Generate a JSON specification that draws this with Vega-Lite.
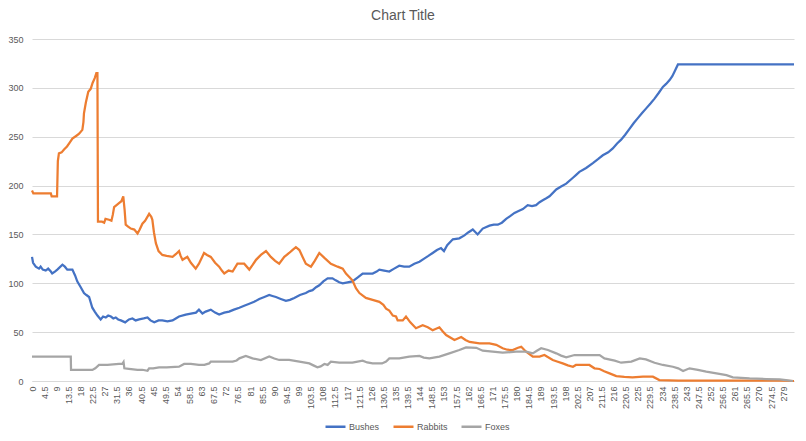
{
  "$schema": "https://vega.github.io/schema/vega-lite/v6.json",
  "autosize": {"type": "none"},
  "width": 762,
  "height": 342,
  "padding": {"left": 32, "top": 39, "right": 12, "bottom": 60},
  "background": "white",
  "title": {"text": "Chart Title", "fontSize": 14, "font": "Liberation Sans", "fontWeight": "normal", "color": "#595959", "anchor": "middle", "offset": 12, "dx": -10},
  "config": {"view": {"stroke": null}},
  "data": {"values": [
{"s":"Bushes","t":0,"v":127},{"s":"Bushes","t":0.4,"v":121},{"s":"Bushes","t":1.4,"v":117},{"s":"Bushes","t":2.6,"v":115},{"s":"Bushes","t":3.2,"v":117},{"s":"Bushes","t":4,"v":114},{"s":"Bushes","t":5.1,"v":113},{"s":"Bushes","t":6,"v":115},{"s":"Bushes","t":7,"v":112},{"s":"Bushes","t":7.5,"v":110},{"s":"Bushes","t":8.5,"v":112},{"s":"Bushes","t":9.4,"v":114},{"s":"Bushes","t":11.3,"v":119},{"s":"Bushes","t":12.2,"v":117},{"s":"Bushes","t":13.1,"v":114},{"s":"Bushes","t":15,"v":114},{"s":"Bushes","t":16,"v":108},{"s":"Bushes","t":16.8,"v":102},{"s":"Bushes","t":18.1,"v":96},{"s":"Bushes","t":19.3,"v":90},{"s":"Bushes","t":20.2,"v":88},{"s":"Bushes","t":21.2,"v":86},{"s":"Bushes","t":22.4,"v":75},{"s":"Bushes","t":23.3,"v":71},{"s":"Bushes","t":24.3,"v":67},{"s":"Bushes","t":25.5,"v":63},{"s":"Bushes","t":26.4,"v":66},{"s":"Bushes","t":27.4,"v":65},{"s":"Bushes","t":28.3,"v":67},{"s":"Bushes","t":29.3,"v":66},{"s":"Bushes","t":30.2,"v":64},{"s":"Bushes","t":31.1,"v":65},{"s":"Bushes","t":32,"v":63},{"s":"Bushes","t":33,"v":62},{"s":"Bushes","t":34.6,"v":60},{"s":"Bushes","t":36,"v":63},{"s":"Bushes","t":37.3,"v":64},{"s":"Bushes","t":38.5,"v":62},{"s":"Bushes","t":39.8,"v":63},{"s":"Bushes","t":41.5,"v":64},{"s":"Bushes","t":42.9,"v":65},{"s":"Bushes","t":44,"v":62},{"s":"Bushes","t":45.4,"v":60},{"s":"Bushes","t":47,"v":62},{"s":"Bushes","t":48.4,"v":62},{"s":"Bushes","t":50.3,"v":61},{"s":"Bushes","t":52.2,"v":62},{"s":"Bushes","t":53.4,"v":64},{"s":"Bushes","t":54.6,"v":66},{"s":"Bushes","t":57.1,"v":68},{"s":"Bushes","t":59,"v":69},{"s":"Bushes","t":60.9,"v":70},{"s":"Bushes","t":62,"v":73},{"s":"Bushes","t":63.3,"v":69},{"s":"Bushes","t":64.5,"v":71},{"s":"Bushes","t":66.4,"v":73},{"s":"Bushes","t":68,"v":70},{"s":"Bushes","t":69.5,"v":68},{"s":"Bushes","t":71.4,"v":70},{"s":"Bushes","t":73.2,"v":71},{"s":"Bushes","t":75,"v":73},{"s":"Bushes","t":77,"v":75},{"s":"Bushes","t":78.8,"v":77},{"s":"Bushes","t":80.7,"v":79},{"s":"Bushes","t":82.5,"v":81},{"s":"Bushes","t":84.4,"v":84},{"s":"Bushes","t":86.3,"v":86},{"s":"Bushes","t":88.1,"v":88},{"s":"Bushes","t":89.3,"v":87},{"s":"Bushes","t":90.6,"v":86},{"s":"Bushes","t":92.4,"v":84},{"s":"Bushes","t":94.3,"v":82},{"s":"Bushes","t":95.8,"v":83},{"s":"Bushes","t":97.4,"v":85},{"s":"Bushes","t":99.5,"v":88},{"s":"Bushes","t":101.7,"v":90},{"s":"Bushes","t":103,"v":92},{"s":"Bushes","t":104.2,"v":93},{"s":"Bushes","t":105.5,"v":96},{"s":"Bushes","t":106.7,"v":98},{"s":"Bushes","t":108.2,"v":102},{"s":"Bushes","t":109.8,"v":105},{"s":"Bushes","t":111.6,"v":105},{"s":"Bushes","t":112.8,"v":103},{"s":"Bushes","t":114.1,"v":101},{"s":"Bushes","t":115.4,"v":100},{"s":"Bushes","t":117.2,"v":101},{"s":"Bushes","t":119,"v":102},{"s":"Bushes","t":121,"v":106},{"s":"Bushes","t":122.8,"v":110},{"s":"Bushes","t":124.5,"v":110},{"s":"Bushes","t":126.5,"v":110},{"s":"Bushes","t":128,"v":112},{"s":"Bushes","t":129,"v":114},{"s":"Bushes","t":130.8,"v":113},{"s":"Bushes","t":132.7,"v":112},{"s":"Bushes","t":134.5,"v":115},{"s":"Bushes","t":136.4,"v":118},{"s":"Bushes","t":138.2,"v":117},{"s":"Bushes","t":140.1,"v":117},{"s":"Bushes","t":142,"v":120},{"s":"Bushes","t":143.9,"v":122},{"s":"Bushes","t":145.5,"v":125},{"s":"Bushes","t":147.2,"v":128},{"s":"Bushes","t":148.8,"v":131},{"s":"Bushes","t":150.4,"v":134},{"s":"Bushes","t":151.9,"v":136},{"s":"Bushes","t":153,"v":133},{"s":"Bushes","t":154.2,"v":139},{"s":"Bushes","t":156.3,"v":145},{"s":"Bushes","t":158.7,"v":146},{"s":"Bushes","t":160.6,"v":149},{"s":"Bushes","t":162,"v":152},{"s":"Bushes","t":163.7,"v":155},{"s":"Bushes","t":165.5,"v":150},{"s":"Bushes","t":167.4,"v":156},{"s":"Bushes","t":169.9,"v":159},{"s":"Bushes","t":171.5,"v":160},{"s":"Bushes","t":173,"v":160},{"s":"Bushes","t":174.5,"v":162},{"s":"Bushes","t":176.1,"v":166},{"s":"Bushes","t":177.7,"v":169},{"s":"Bushes","t":179.2,"v":172},{"s":"Bushes","t":180.7,"v":174},{"s":"Bushes","t":182.3,"v":176},{"s":"Bushes","t":184.1,"v":180},{"s":"Bushes","t":185.7,"v":179},{"s":"Bushes","t":187.2,"v":180},{"s":"Bushes","t":188.5,"v":183},{"s":"Bushes","t":189.7,"v":185},{"s":"Bushes","t":191,"v":187},{"s":"Bushes","t":192.2,"v":189},{"s":"Bushes","t":194.7,"v":196},{"s":"Bushes","t":196.5,"v":199},{"s":"Bushes","t":198.4,"v":202},{"s":"Bushes","t":200.9,"v":208},{"s":"Bushes","t":202.1,"v":211},{"s":"Bushes","t":203.3,"v":214},{"s":"Bushes","t":205.8,"v":218},{"s":"Bushes","t":208.3,"v":223},{"s":"Bushes","t":210.2,"v":227},{"s":"Bushes","t":212,"v":231},{"s":"Bushes","t":214,"v":234},{"s":"Bushes","t":215.7,"v":238},{"s":"Bushes","t":217.3,"v":243},{"s":"Bushes","t":218.8,"v":247},{"s":"Bushes","t":220.3,"v":252},{"s":"Bushes","t":221.9,"v":258},{"s":"Bushes","t":223.5,"v":264},{"s":"Bushes","t":225,"v":269},{"s":"Bushes","t":226.5,"v":274},{"s":"Bushes","t":228.1,"v":279},{"s":"Bushes","t":229.7,"v":284},{"s":"Bushes","t":231.2,"v":289},{"s":"Bushes","t":232.8,"v":295},{"s":"Bushes","t":234.3,"v":301},{"s":"Bushes","t":235.5,"v":304},{"s":"Bushes","t":236.8,"v":308},{"s":"Bushes","t":237.8,"v":312},{"s":"Bushes","t":238.7,"v":317},{"s":"Bushes","t":239.9,"v":324},{"s":"Bushes","t":283,"v":324},
{"s":"Rabbits","t":0,"v":195},{"s":"Rabbits","t":0.5,"v":192},{"s":"Rabbits","t":7,"v":192},{"s":"Rabbits","t":7.3,"v":189},{"s":"Rabbits","t":9.3,"v":189},{"s":"Rabbits","t":9.6,"v":225},{"s":"Rabbits","t":10,"v":233},{"s":"Rabbits","t":11,"v":234},{"s":"Rabbits","t":11.9,"v":237},{"s":"Rabbits","t":13,"v":240},{"s":"Rabbits","t":14,"v":244},{"s":"Rabbits","t":15,"v":248},{"s":"Rabbits","t":16.5,"v":251},{"s":"Rabbits","t":17.5,"v":253},{"s":"Rabbits","t":18.7,"v":257},{"s":"Rabbits","t":19.1,"v":265},{"s":"Rabbits","t":19.3,"v":274},{"s":"Rabbits","t":20,"v":285},{"s":"Rabbits","t":20.9,"v":296},{"s":"Rabbits","t":21.8,"v":299},{"s":"Rabbits","t":22.5,"v":305},{"s":"Rabbits","t":23.3,"v":310},{"s":"Rabbits","t":23.9,"v":315},{"s":"Rabbits","t":24.3,"v":315},{"s":"Rabbits","t":24.5,"v":163},{"s":"Rabbits","t":26,"v":163},{"s":"Rabbits","t":26.8,"v":162},{"s":"Rabbits","t":27.3,"v":166},{"s":"Rabbits","t":28.6,"v":165},{"s":"Rabbits","t":29.5,"v":164},{"s":"Rabbits","t":30,"v":170},{"s":"Rabbits","t":30.5,"v":178},{"s":"Rabbits","t":32.3,"v":182},{"s":"Rabbits","t":33.2,"v":184},{"s":"Rabbits","t":33.9,"v":189},{"s":"Rabbits","t":34.4,"v":175},{"s":"Rabbits","t":34.8,"v":160},{"s":"Rabbits","t":35.7,"v":158},{"s":"Rabbits","t":36.7,"v":156},{"s":"Rabbits","t":38,"v":155},{"s":"Rabbits","t":39.2,"v":151},{"s":"Rabbits","t":40,"v":155},{"s":"Rabbits","t":41,"v":161},{"s":"Rabbits","t":42,"v":164},{"s":"Rabbits","t":43.5,"v":171},{"s":"Rabbits","t":44.3,"v":168},{"s":"Rabbits","t":44.7,"v":165},{"s":"Rabbits","t":45.3,"v":152},{"s":"Rabbits","t":46,"v":141},{"s":"Rabbits","t":47,"v":133},{"s":"Rabbits","t":48.4,"v":129},{"s":"Rabbits","t":50,"v":128},{"s":"Rabbits","t":52.2,"v":127},{"s":"Rabbits","t":53.5,"v":130},{"s":"Rabbits","t":54.6,"v":133},{"s":"Rabbits","t":55.2,"v":128},{"s":"Rabbits","t":55.9,"v":124},{"s":"Rabbits","t":57.7,"v":127},{"s":"Rabbits","t":59,"v":121},{"s":"Rabbits","t":60.8,"v":115},{"s":"Rabbits","t":62,"v":120},{"s":"Rabbits","t":63.9,"v":131},{"s":"Rabbits","t":65,"v":129},{"s":"Rabbits","t":66.4,"v":127},{"s":"Rabbits","t":68,"v":121},{"s":"Rabbits","t":69.5,"v":117},{"s":"Rabbits","t":70.5,"v":113},{"s":"Rabbits","t":71.4,"v":110},{"s":"Rabbits","t":73,"v":113},{"s":"Rabbits","t":74.5,"v":112},{"s":"Rabbits","t":76.3,"v":120},{"s":"Rabbits","t":78.8,"v":120},{"s":"Rabbits","t":80.7,"v":114},{"s":"Rabbits","t":82,"v":119},{"s":"Rabbits","t":83.2,"v":124},{"s":"Rabbits","t":85,"v":129},{"s":"Rabbits","t":86.9,"v":133},{"s":"Rabbits","t":88.7,"v":127},{"s":"Rabbits","t":90.3,"v":123},{"s":"Rabbits","t":91.8,"v":120},{"s":"Rabbits","t":93.7,"v":127},{"s":"Rabbits","t":95.5,"v":131},{"s":"Rabbits","t":96.7,"v":134},{"s":"Rabbits","t":98,"v":137},{"s":"Rabbits","t":99.3,"v":134},{"s":"Rabbits","t":100.5,"v":127},{"s":"Rabbits","t":101.7,"v":120},{"s":"Rabbits","t":103.6,"v":117},{"s":"Rabbits","t":105,"v":123},{"s":"Rabbits","t":106.7,"v":131},{"s":"Rabbits","t":108.6,"v":126},{"s":"Rabbits","t":111,"v":120},{"s":"Rabbits","t":113.5,"v":117},{"s":"Rabbits","t":115.4,"v":115},{"s":"Rabbits","t":116.6,"v":110},{"s":"Rabbits","t":118,"v":106},{"s":"Rabbits","t":119,"v":103},{"s":"Rabbits","t":120.3,"v":95},{"s":"Rabbits","t":121.6,"v":90},{"s":"Rabbits","t":124,"v":85},{"s":"Rabbits","t":126.5,"v":83},{"s":"Rabbits","t":129,"v":81},{"s":"Rabbits","t":130.5,"v":78},{"s":"Rabbits","t":131.5,"v":74},{"s":"Rabbits","t":132.7,"v":72},{"s":"Rabbits","t":134,"v":67},{"s":"Rabbits","t":135.2,"v":66},{"s":"Rabbits","t":135.8,"v":62},{"s":"Rabbits","t":137.7,"v":62},{"s":"Rabbits","t":138.9,"v":66},{"s":"Rabbits","t":140.5,"v":60},{"s":"Rabbits","t":142.6,"v":54},{"s":"Rabbits","t":145.1,"v":57},{"s":"Rabbits","t":147,"v":55},{"s":"Rabbits","t":148.8,"v":52},{"s":"Rabbits","t":151.3,"v":55},{"s":"Rabbits","t":152.5,"v":51},{"s":"Rabbits","t":153.8,"v":47},{"s":"Rabbits","t":156.9,"v":42},{"s":"Rabbits","t":159.4,"v":45},{"s":"Rabbits","t":161,"v":42},{"s":"Rabbits","t":162.5,"v":40},{"s":"Rabbits","t":166.2,"v":38.6},{"s":"Rabbits","t":169.9,"v":38.6},{"s":"Rabbits","t":172.4,"v":37},{"s":"Rabbits","t":174.8,"v":33.5},{"s":"Rabbits","t":176.5,"v":32},{"s":"Rabbits","t":178.5,"v":31.7},{"s":"Rabbits","t":180.5,"v":34},{"s":"Rabbits","t":181.7,"v":35},{"s":"Rabbits","t":183.5,"v":30},{"s":"Rabbits","t":186,"v":25},{"s":"Rabbits","t":188.5,"v":25},{"s":"Rabbits","t":190.3,"v":26.6},{"s":"Rabbits","t":193.4,"v":21.5},{"s":"Rabbits","t":195,"v":20},{"s":"Rabbits","t":197.1,"v":18},{"s":"Rabbits","t":199,"v":16},{"s":"Rabbits","t":200.9,"v":14.6},{"s":"Rabbits","t":202,"v":16.4},{"s":"Rabbits","t":205.8,"v":16.4},{"s":"Rabbits","t":207,"v":16.4},{"s":"Rabbits","t":208.9,"v":13},{"s":"Rabbits","t":210.8,"v":12.3},{"s":"Rabbits","t":212.5,"v":10},{"s":"Rabbits","t":214.5,"v":7.8},{"s":"Rabbits","t":217,"v":5},{"s":"Rabbits","t":220,"v":4.2},{"s":"Rabbits","t":223,"v":3.8},{"s":"Rabbits","t":226.9,"v":4.4},{"s":"Rabbits","t":230.6,"v":4.4},{"s":"Rabbits","t":233,"v":1},{"s":"Rabbits","t":240,"v":0.5},{"s":"Rabbits","t":277.7,"v":0.3},{"s":"Rabbits","t":283,"v":0},
{"s":"Foxes","t":0,"v":25},{"s":"Foxes","t":14.4,"v":25},{"s":"Foxes","t":14.5,"v":11.3},{"s":"Foxes","t":22.4,"v":11.3},{"s":"Foxes","t":23.5,"v":13},{"s":"Foxes","t":24.9,"v":16.4},{"s":"Foxes","t":28,"v":16.5},{"s":"Foxes","t":32.3,"v":17.4},{"s":"Foxes","t":33.5,"v":17.4},{"s":"Foxes","t":34,"v":19.5},{"s":"Foxes","t":34.3,"v":13},{"s":"Foxes","t":36,"v":12.5},{"s":"Foxes","t":39.2,"v":11.3},{"s":"Foxes","t":41,"v":11.5},{"s":"Foxes","t":42.9,"v":10.5},{"s":"Foxes","t":43.5,"v":13},{"s":"Foxes","t":45,"v":13},{"s":"Foxes","t":47.2,"v":14},{"s":"Foxes","t":50,"v":14},{"s":"Foxes","t":54.6,"v":14.6},{"s":"Foxes","t":56.5,"v":17.4},{"s":"Foxes","t":59,"v":17.4},{"s":"Foxes","t":62,"v":16.4},{"s":"Foxes","t":64,"v":16.6},{"s":"Foxes","t":65.8,"v":18},{"s":"Foxes","t":66.4,"v":19.8},{"s":"Foxes","t":69.5,"v":19.8},{"s":"Foxes","t":74.5,"v":19.8},{"s":"Foxes","t":76,"v":21},{"s":"Foxes","t":77,"v":23.2},{"s":"Foxes","t":79.4,"v":25.6},{"s":"Foxes","t":81.9,"v":23.2},{"s":"Foxes","t":85,"v":21.5},{"s":"Foxes","t":88.1,"v":25},{"s":"Foxes","t":90,"v":23},{"s":"Foxes","t":91.8,"v":21.5},{"s":"Foxes","t":95.5,"v":21.5},{"s":"Foxes","t":99.3,"v":19.8},{"s":"Foxes","t":103,"v":18},{"s":"Foxes","t":104.5,"v":16},{"s":"Foxes","t":106,"v":14},{"s":"Foxes","t":107.2,"v":15},{"s":"Foxes","t":108.6,"v":17.4},{"s":"Foxes","t":109.8,"v":16.5},{"s":"Foxes","t":111,"v":19.8},{"s":"Foxes","t":114.1,"v":18.7},{"s":"Foxes","t":119,"v":18.7},{"s":"Foxes","t":122.8,"v":20.8},{"s":"Foxes","t":124.5,"v":19},{"s":"Foxes","t":126.5,"v":18},{"s":"Foxes","t":130,"v":18},{"s":"Foxes","t":131.5,"v":20},{"s":"Foxes","t":132.7,"v":23.2},{"s":"Foxes","t":136.4,"v":23.2},{"s":"Foxes","t":138,"v":24},{"s":"Foxes","t":140.1,"v":25},{"s":"Foxes","t":143.9,"v":25.6},{"s":"Foxes","t":145.5,"v":24},{"s":"Foxes","t":147.6,"v":23.2},{"s":"Foxes","t":151.3,"v":25},{"s":"Foxes","t":153,"v":26.5},{"s":"Foxes","t":155,"v":28.3},{"s":"Foxes","t":158.7,"v":31.7},{"s":"Foxes","t":161.2,"v":34.4},{"s":"Foxes","t":165,"v":34},{"s":"Foxes","t":167.4,"v":31},{"s":"Foxes","t":171.1,"v":30},{"s":"Foxes","t":174.8,"v":29},{"s":"Foxes","t":179.8,"v":30},{"s":"Foxes","t":183.5,"v":30},{"s":"Foxes","t":186,"v":28.3},{"s":"Foxes","t":187.5,"v":31},{"s":"Foxes","t":189.1,"v":33.5},{"s":"Foxes","t":191.6,"v":31.7},{"s":"Foxes","t":194.7,"v":28.3},{"s":"Foxes","t":196.5,"v":26},{"s":"Foxes","t":198.4,"v":24.2},{"s":"Foxes","t":201.5,"v":26.6},{"s":"Foxes","t":207,"v":26.6},{"s":"Foxes","t":210.8,"v":26.6},{"s":"Foxes","t":212.6,"v":23.2},{"s":"Foxes","t":216.4,"v":20.8},{"s":"Foxes","t":218.8,"v":18.7},{"s":"Foxes","t":222.6,"v":19.8},{"s":"Foxes","t":225.7,"v":23.2},{"s":"Foxes","t":228,"v":22.1},{"s":"Foxes","t":231.2,"v":18.7},{"s":"Foxes","t":234.3,"v":16.4},{"s":"Foxes","t":238,"v":14.6},{"s":"Foxes","t":240,"v":13},{"s":"Foxes","t":241.8,"v":10.2},{"s":"Foxes","t":244.2,"v":13},{"s":"Foxes","t":247.3,"v":11.3},{"s":"Foxes","t":250.4,"v":9.5},{"s":"Foxes","t":254.2,"v":7.8},{"s":"Foxes","t":257.9,"v":6},{"s":"Foxes","t":260.3,"v":3.8},{"s":"Foxes","t":266.5,"v":2.7},{"s":"Foxes","t":272.7,"v":2},{"s":"Foxes","t":277.7,"v":1.7},{"s":"Foxes","t":280,"v":1},{"s":"Foxes","t":282.6,"v":0}
  ]},
  "mark": {"type": "line", "strokeWidth": 2.25},
  "encoding": {
    "x": {"field": "t", "type": "quantitative", "scale": {"domain": [0, 283], "nice": false, "zero": false},
      "axis": {"title": null, "grid": false, "ticks": false, "domainColor": "#d9d9d9", "domainWidth": 1, "labelAngle": -90, "labelAlign": "right", "labelBaseline": "middle", "labelFontSize": 9, "labelFont": "Liberation Sans", "labelColor": "#595959", "labelPadding": 5, "labelOverlap": false, "labelExpr": "'' + datum.value",
        "values": [0,4.5,9,13.5,18,22.5,27,31.5,36,40.5,45,49.5,54,58.5,63,67.5,72,76.5,81,85.5,90,94.5,99,103.5,108,112.5,117,121.5,126,130.5,135,139.5,144,148.5,153,157.5,162,166.5,171,175.5,180,184.5,189,193.5,198,202.5,207,211.5,216,220.5,225,229.5,234,238.5,243,247.5,252,256.5,261,265.5,270,274.5,279]}},
    "y": {"field": "v", "type": "quantitative", "scale": {"domain": [0, 350], "nice": false},
      "axis": {"title": null, "values": [0,50,100,150,200,250,300,350], "grid": true, "gridColor": "#d9d9d9", "gridWidth": 1, "domain": false, "ticks": false, "labelFontSize": 9, "labelFont": "Liberation Sans", "labelColor": "#595959", "labelPadding": 9}},
    "color": {"field": "s", "type": "nominal", "sort": ["Bushes", "Rabbits", "Foxes"], "scale": {"domain": ["Bushes", "Rabbits", "Foxes"], "range": ["#4472C4", "#ED7D31", "#A5A5A5"]},
      "legend": {"title": null, "orient": "none", "legendX": 292, "legendY": 376, "direction": "horizontal", "symbolType": "stroke", "symbolSize": 400, "symbolStrokeWidth": 2.5, "labelFontSize": 9, "labelFont": "Liberation Sans", "labelColor": "#595959", "columnPadding": 8, "labelOffset": 2}},
    "order": {"field": "t", "type": "quantitative"}
  }
}
